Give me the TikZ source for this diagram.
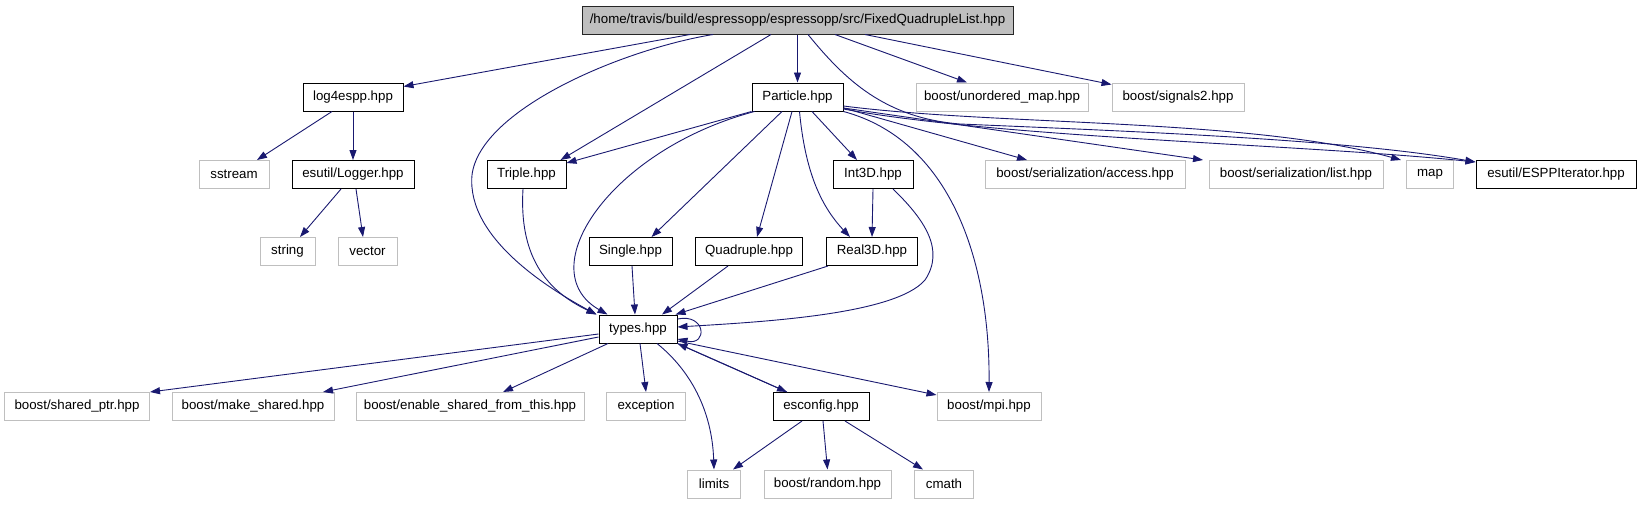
\documentclass[tikz,border=0pt]{standalone}
\usepackage{fontspec}
\setmainfont{Liberation Sans}
\usetikzlibrary{arrows.meta}
\definecolor{edgeblue}{RGB}{25,25,112}
\definecolor{extgray}{RGB}{191,191,191}
\tikzset{
  box/.style={draw=black, line width=1pt, fill=white, minimum height=28pt, inner xsep=0pt, inner ysep=0pt, font=\fontsize{13.3}{15}\selectfont, text=black},
  extbox/.style={box, draw=extgray},
  rootbox/.style={box, fill=extgray, draw=black!85},
  edge/.style={draw=edgeblue, line width=0.9pt, -{Triangle[length=10pt,width=7pt,fill=edgeblue]}},
}
\begin{document}
\begin{tikzpicture}[x=1pt,y=-1pt]
\useasboundingbox (0,0) rectangle (1637,504);
% row 0
\node[rootbox, minimum width=431pt] (root) at (797.5,20) {/home/travis/build/espressopp/espressopp/src/FixedQuadrupleList.hpp};
% row 1
\node[box, minimum width=100pt] (log4espp) at (353,97) {log4espp.hpp};
\node[box, minimum width=91pt] (Particle) at (797.5,97) {Particle.hpp};
\node[extbox, minimum width=172pt] (umap) at (1002,97) {boost/unordered\_map.hpp};
\node[extbox, minimum width=132pt] (signals2) at (1178,97) {boost/signals2.hpp};
% row 2
\node[extbox, minimum width=70pt] (sstream) at (234,174.5) {sstream};
\node[box, minimum width=122pt] (Logger) at (353,174.5) {esutil/Logger.hpp};
\node[box, minimum width=79pt] (Triple) at (526.5,174.5) {Triple.hpp};
\node[box, minimum width=80pt] (Int3D) at (873,174.5) {Int3D.hpp};
\node[extbox, minimum width=200pt] (access) at (1085,174.5) {boost/serialization/access.hpp};
\node[extbox, minimum width=174pt] (list) at (1296,174.5) {boost/serialization/list.hpp};
\node[extbox, minimum width=47pt] (map) at (1430,174.5) {map};
\node[box, minimum width=160pt] (ESPP) at (1556,174.5) {esutil/ESPPIterator.hpp};
% row 3
\node[extbox, minimum width=55pt] (string) at (287.5,251.5) {string};
\node[extbox, minimum width=59pt] (vector) at (367.5,251.5) {vector};
\node[box, minimum width=83pt] (Single) at (630.5,251.5) {Single.hpp};
\node[box, minimum width=107pt] (Quadruple) at (749,251.5) {Quadruple.hpp};
\node[box, minimum width=91pt] (Real3D) at (872,251.5) {Real3D.hpp};
% row 4
\node[box, minimum width=78pt] (types) at (638,329) {types.hpp};
% row 5
\node[extbox, minimum width=145pt] (sharedptr) at (77,406.5) {boost/shared\_ptr.hpp};
\node[extbox, minimum width=162pt] (makeshared) at (253,406.5) {boost/make\_shared.hpp};
\node[extbox, minimum width=228pt] (enable) at (470,406.5) {boost/enable\_shared\_from\_this.hpp};
\node[extbox, minimum width=79pt] (exception) at (646,406.5) {exception};
\node[box, minimum width=96pt] (esconfig) at (821,406.5) {esconfig.hpp};
\node[extbox, minimum width=104pt] (mpi) at (989,406.5) {boost/mpi.hpp};
% row 6
\node[extbox, minimum width=53pt] (limits) at (714,484) {limits};
\node[extbox, minimum width=127pt] (random) at (827.5,484) {boost/random.hpp};
\node[extbox, minimum width=59pt] (cmath) at (944,484) {cmath};

% root edges
\draw[edge] ([xshift=-107.5pt]root.south) -- ([yshift=-4pt]log4espp.north east);
\draw[edge] ([xshift=-84.5pt]root.south) .. controls (620,50) and (480,110) .. (472,175) .. controls (466,240) and (555,292) .. ([xshift=-2pt]types.north west);
\draw[edge] ([xshift=-26.5pt]root.south) -- ([xshift=-6pt]Triple.north east);
\draw[edge] (root.south) -- (Particle.north);
\draw[edge] ([xshift=10.5pt]root.south) .. controls (845,80) and (885,118) .. (960,124) .. controls (1150,132) and (1350,140) .. ([yshift=-2pt]ESPP.north west);
\draw[edge] ([xshift=37.5pt]root.south) -- ([xshift=-35pt]umap.north);
\draw[edge] ([xshift=67.5pt]root.south) -- ([yshift=-2pt]signals2.north west);

% log4espp / Logger
\draw[edge] ([xshift=-21pt]log4espp.south) -- ([xshift=23pt]sstream.north);
\draw[edge] (log4espp.south) -- (Logger.north);
\draw[edge] ([xshift=-12pt]Logger.south) -- ([xshift=12.5pt]string.north);
\draw[edge] ([xshift=3pt]Logger.south) -- ([xshift=-4.5pt]vector.north);

% Triple
\draw[edge] ([xshift=-3.5pt]Triple.south) .. controls (519,255) and (545,290) .. ([xshift=-2pt]types.north west);

% Particle edges
\draw[edge] (Particle.south west) -- ([yshift=-3pt]Triple.north east);
\draw[edge] ([xshift=3pt]Particle.south west) .. controls (610,150) and (530,270) .. ([xshift=9pt]types.north west);
\draw[edge] ([xshift=-15.5pt]Particle.south) -- ([xshift=21pt]Single.north);
\draw[edge] ([xshift=-5.5pt]Particle.south) -- ([xshift=8pt]Quadruple.north);
\draw[edge] ([xshift=2pt]Particle.south) .. controls (805,170) and (820,205) .. ([xshift=-22pt]Real3D.north);
\draw[edge] ([xshift=14.5pt]Particle.south) -- ([xshift=-16pt]Int3D.north);
\draw[edge] (Particle.south east) .. controls (950,140) and (990,260) .. (mpi.north);
\draw[edge] ([yshift=-11pt]Particle.east) -- ([xshift=-58pt]access.north);
\draw[edge] ([yshift=-11pt]Particle.east) -- ([xshift=-93pt]list.north);
\draw[edge] ([yshift=-9pt]Particle.east) .. controls (1000,126) and (1250,118) .. ([xshift=-5pt]map.north west);
\draw[edge] ([yshift=-12pt]Particle.east) .. controls (1000,138) and (1300,144) .. ([yshift=-2pt]ESPP.north west);

% Int3D
\draw[edge] (Int3D.south) -- (Real3D.north);
\draw[edge] ([xshift=20pt]Int3D.south) .. controls (925,220) and (945,250) .. (925,280) .. controls (895,315) and (760,322) .. ([yshift=2pt]types.east);

% row 3 to types
\draw[edge] ([xshift=1.5pt]Single.south) -- ([xshift=-3pt]types.north);
\draw[edge] ([xshift=-21pt]Quadruple.south) -- ([xshift=24pt]types.north);
\draw[edge] ([xshift=-44pt]Real3D.south) -- ([xshift=-2pt]types.north east);

% types edges
\draw[edge] ([yshift=-5pt]types.west) -- (sharedptr.north east);
\draw[edge] ([yshift=-8pt]types.west) -- ([xshift=70pt]makeshared.north);
\draw[edge] ([xshift=-30pt]types.south) -- ([xshift=33pt]enable.north);
\draw[edge] ([xshift=2pt]types.south) -- (exception.north);
\draw[edge] ([xshift=19pt]types.south) .. controls (690,370) and (712,410) .. (limits.north);
\draw[edge] (types.south east) -- ([xshift=-34pt]esconfig.north);
\draw[edge] ([xshift=-34pt]esconfig.north) -- (types.south east);
\draw[edge] ([yshift=-12pt]types.east) -- ([yshift=-3pt]mpi.north west);
\draw[edge] ([yshift=10pt]types.east) .. controls (706,313) and (708,346) .. ([yshift=-10pt]types.east);

% esconfig
\draw[edge] ([xshift=-19pt]esconfig.south) -- ([xshift=19pt]limits.north);
\draw[edge] ([xshift=2pt]esconfig.south) -- (random.north);
\draw[edge] ([xshift=24pt]esconfig.south) -- ([xshift=-21pt]cmath.north);
\end{tikzpicture}
\end{document}
